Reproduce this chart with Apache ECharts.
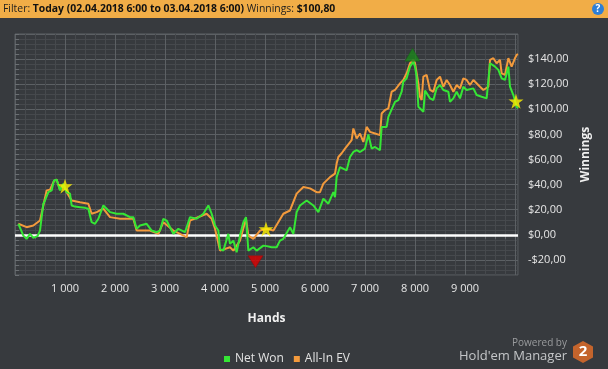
<!DOCTYPE html>
<html><head><meta charset="utf-8">
<script src="https://cdn.jsdelivr.net/npm/echarts@6/dist/echarts.min.js"></script>
<style>html,body{margin:0;padding:0;background:#373a3e;}#c{width:608px;height:369px;}</style>
</head><body><div id="c"></div>
<script>
// ---- data ----
const netHands = [67,167,233,300,367,450,500,533,567,600,667,733,780,833,900,967,1033,1100,1133,1200,1300,1400,1467,1533,1600,1667,1767,1833,1900,2033,2167,2300,2367,2433,2500,2633,2733,2833,2900,2967,3033,3100,3167,3267,3400,3500,3633,3767,3867,3933,4000,4067,4100,4167,4267,4300,4367,4433,4500,4567,4620,4667,4767,4833,4967,5033,5133,5233,5300,5367,5500,5567,5633,5700,5833,5967,6067,6167,6267,6367,6400,6433,6500,6633,6700,6767,6833,6900,7000,7067,7133,7200,7300,7333,7433,7467,7600,7667,7733,7767,7833,7900,7967,8000,8033,8067,8167,8200,8300,8367,8433,8500,8567,8667,8700,8767,8833,8900,8967,9033,9167,9233,9333,9433,9500,9600,9667,9733,9800,9867,9900,9967,10033,10060];
const netWon = [8.8,-0.6,-3.2,0.8,-2.4,-1,3.4,4.8,24.8,27.4,34,35.4,43.4,44,35.4,40.7,34,32.8,23.4,22.5,22,21.5,20.8,10.1,8.8,12.8,23.4,20.8,18.1,16.8,16.8,14.1,14.1,4.8,7.4,8.8,3.4,2.1,3.4,12.8,11.4,6.1,0.8,4.8,2.1,14.1,12.8,16.8,23.4,16.8,7.4,3.4,-11.2,-12.6,0.8,-7.2,-4.6,-13.9,-0.6,10.1,14.1,-12.6,-9.9,-12.6,-8.6,-9,-9.9,-9.9,-4.6,-3.2,6.1,0.8,18.1,23.4,27.4,23.4,18.1,28.8,24.8,34,30,46,54,51.4,62,66,67.4,66,68.7,80,68.7,70,67.4,86,86,94,106,107.4,114,122,124.7,134,138,134,126,102,98,115,108.7,107.4,116.7,119.4,115.4,114,106,108.7,114,108.7,118,115.4,116.7,111.4,110,108.7,136.7,134,131.4,124.7,123.4,134,118,111.4,102,100.8];
const evHands = [67,233,367,500,567,633,700,780,833,900,967,1033,1133,1300,1467,1533,1633,1767,1900,2100,2367,2433,2700,2867,2967,3167,3433,3500,3833,3933,4000,4100,4300,4367,4500,4620,4667,4767,4900,5033,5167,5367,5500,5633,5767,5900,6033,6100,6167,6300,6400,6433,6467,6533,6600,6733,6767,6833,6900,6967,7033,7100,7200,7300,7333,7400,7467,7533,7600,7700,7767,7833,7900,7967,8000,8067,8100,8133,8167,8233,8300,8367,8433,8500,8567,8633,8700,8767,8833,8900,8967,9033,9100,9167,9300,9367,9467,9500,9567,9633,9700,9733,9800,9867,9933,10000,10033,10060];
const allInEV = [8.8,6.1,7.4,11.4,23.4,35.4,36,43,44,36,40,34,27.4,26,24.8,16.8,18.1,20.8,14.1,12.8,12.8,3.4,3.4,0.8,10.1,3.4,-1.9,11.4,16.8,12.8,4.8,-12.6,-9.9,-12.6,-4.6,12.8,-0.6,-3.2,3.4,4.8,3.4,16.8,19.4,32.8,38.1,37,34,34,40.8,46,48.8,56.8,62,65,68.7,75.4,84.7,76.7,80.7,74,86,82,80.7,79.4,96.7,99.4,100.7,114,115.4,120.7,123.4,128.7,136.7,139.4,136.7,120.7,110,107.4,126,127.4,115.4,114,123.4,126,118,123.4,119.4,114,119.4,116.7,124.7,123.4,119.4,123.4,118,115.4,118,139.4,140.7,136.7,139.4,128.7,127.4,140.7,134,140.7,143.4,144];
const starHands = [1000, 5020, 10020];
const starValues = [38.8, 4.6, 106.4];
const maxMark = [7950, 143.5];
const minMark = [4810, -21.4];
const seriesNames = ['Net Won', 'All-In EV'];
const xMin = 0, xMax = 10060, xStep = 200, xLabelMax = 9000;
const yMin = -32, yMax = 160, yStep = 4;

// ---- chart ----
const zip = (a, b) => a.map((v, i) => [v, b[i]]);
const fmtHands = v => String(v).replace(/\B(?=(\d{3})+(?!\d))/g, ' ');
const MAJ = '#5c6064', MIN = '#46494d';
const STAR = 'path://M50,0 L61.2,34.5 L97.6,34.5 L68.2,55.9 L79.4,90.5 L50,69.1 L20.6,90.5 L31.8,55.9 L2.4,34.5 L38.8,34.5 Z';
const chart = echarts.init(document.getElementById('c'), null, {renderer: 'canvas'});
const FONT = 'Open Sans';
const HFS = 10.4;
chart.setOption({
  backgroundColor: '#373a3e',
  animation: false,
  grid: {left: 15, top: 34, right: 90, bottom: 94, show: true, borderColor: '#5c6064', borderWidth: 1, backgroundColor: 'transparent'},
  legend: {
    data: seriesNames, left: 219, top: 348, icon: 'rect', itemWidth: 6, itemHeight: 6, itemGap: 10,
    textStyle: {color: '#e2e2e2', fontSize: 12, fontFamily: FONT}
  },
  xAxis: {
    type: 'value', min: xMin, max: xMax, interval: xStep,
    axisLine: {show: false},
    axisTick: {show: true, length: 4, lineStyle: {color: '#6a6e72'}},
    axisLabel: {color: '#e6e6e6', fontSize: 11, fontFamily: FONT, margin: 8, showMaxLabel: false,
      formatter: v => (v > 0 && v <= xLabelMax && v % 1000 === 0) ? fmtHands(v) : ''},
    splitLine: {show: true, lineStyle: {color: [MAJ, MIN, MIN, MIN, MIN], width: 1}},
    name: 'Hands', nameLocation: 'middle', nameGap: 38,
    nameTextStyle: {color: '#f0f0f0', fontWeight: 'bold', fontSize: 12, fontFamily: FONT}
  },
  yAxis: {
    type: 'value', position: 'right', min: yMin, max: yMax, interval: yStep,
    axisLine: {show: false},
    axisTick: {show: true, length: 4, lineStyle: {color: '#6a6e72'}},
    axisLabel: {color: '#e6e6e6', fontSize: 11, fontFamily: FONT, margin: 10,
      formatter: v => (v % 20 === 0 && v !== yMax) ? (v < 0 ? '-' : '') + '$' + Math.abs(v) + ',00' : ''},
    splitLine: {show: true, lineStyle: {color: [MIN, MIN, MIN, MAJ, MIN], width: 1}},
    name: 'Winnings', nameLocation: 'middle', nameRotate: 90, nameGap: 62,
    nameTextStyle: {color: '#f0f0f0', fontWeight: 'bold', fontSize: 12, fontFamily: FONT}
  },
  series: [
    {name: 'All-In EV', type: 'line', data: zip(evHands, allInEV), showSymbol: false, color: '#f39a3c',
      lineStyle: {width: 2, color: '#f39a3c'}, z: 3},
    {name: 'Net Won', type: 'line', data: zip(netHands, netWon), showSymbol: false, color: '#35e635',
      lineStyle: {width: 2, color: '#35e635'}, z: 4,
      markLine: {silent: true, symbol: 'none', label: {show: false}, lineStyle: {color: '#ffffff', width: 2.5, type: 'solid'},
        data: [{yAxis: 0}], z: 2}},
    {name: 'stars', type: 'scatter', data: zip(starHands, starValues), symbol: STAR, symbolSize: 15,
      itemStyle: {color: '#fff400'}, z: 6},
    {name: 'max', type: 'scatter', data: [maxMark], symbol: 'triangle', symbolSize: [15, 13],
      itemStyle: {color: '#1a861a', borderColor: '#0e5e0e', borderWidth: 0.5}, z: 6},
    {name: 'min', type: 'scatter', data: [minMark], symbol: 'triangle', symbolRotate: 180, symbolSize: [15, 12],
      itemStyle: {color: '#e00000', borderColor: '#8a0000', borderWidth: 0.5}, z: 6}
  ],
  graphic: [
    {type: 'rect', shape: {x: 0, y: 0, width: 608, height: 18}, style: {fill: '#f1ad47'}, z: 10},
    {type: 'text', x: 3, y: 9, z: 11, style: {
      text: '{n|Filter: }{b|Today (02.04.2018 6:00 to 03.04.2018 6:00)}{n| Winnings: }{b|$100,80}',
      verticalAlign: 'middle', fontFamily: FONT, fontSize: HFS,
      rich: {n: {fill: '#1e1e1e', fontSize: HFS, fontFamily: FONT}, b: {fill: '#111', fontWeight: 'bold', fontSize: HFS, fontFamily: FONT}}
    }},
    {type: 'circle', shape: {cx: 598, cy: 9, r: 6}, style: {fill: '#2e7fd6'}, z: 11},
    {type: 'text', x: 598, y: 9, z: 12, style: {text: '?', fill: '#fff', fontWeight: 'bold', fontSize: 10, fontFamily: FONT, align: 'center', verticalAlign: 'middle'}},
    {type: 'text', x: 567, y: 343, z: 11, style: {text: 'Powered by', fill: '#9a9c9e', fontSize: 10, fontFamily: FONT, align: 'right', verticalAlign: 'middle'}},
    {type: 'text', x: 567, y: 356, z: 11, style: {text: "Hold'em Manager", fill: '#c4c6c8', fontSize: 13, fontFamily: FONT, align: 'right', verticalAlign: 'middle'}},
    {type: 'polygon', z: 11, shape: {points: [[583,341],[593,346.5],[593,357.5],[583,363],[573,357.5],[573,346.5]]}, style: {fill: '#c4642c'}},
    {type: 'text', x: 583, y: 352, z: 12, style: {text: '2', fill: '#fff', fontWeight: 'bold', fontSize: 15, fontFamily: FONT, align: 'center', verticalAlign: 'middle'}}
  ]
});
</script></body></html>
